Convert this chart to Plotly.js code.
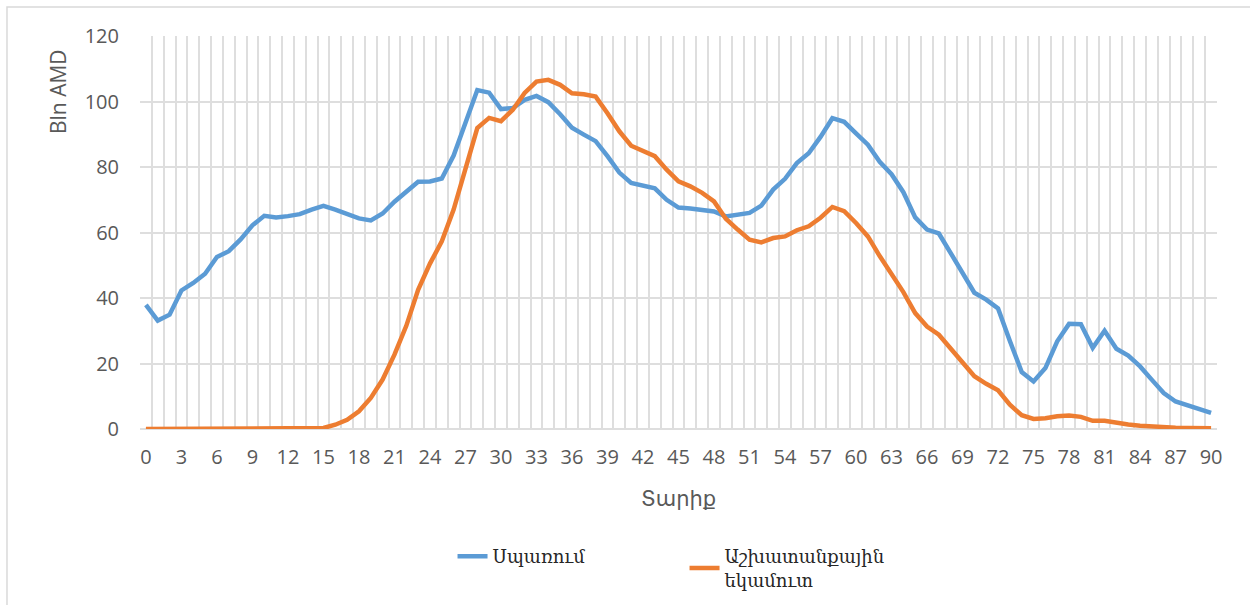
<!DOCTYPE html>
<html>
<head>
<meta charset="utf-8">
<script src="https://cdn.plot.ly/plotly-3.0.1.min.js"></script>
<style>
  html, body { margin: 0; padding: 0; background: #ffffff; }
  #chart { width: 1250px; height: 605px; }
</style>
</head>
<body>
<div id="chart"></div>
<script>
// Age categories (x axis)
const ages = [0,1,2,3,4,5,6,7,8,9,10,11,12,13,14,15,16,17,18,19,20,
  21,22,23,24,25,26,27,28,29,30,31,32,33,34,35,36,37,38,39,40,
  41,42,43,44,45,46,47,48,49,50,51,52,53,54,55,56,57,58,59,60,
  61,62,63,64,65,66,67,68,69,70,71,72,73,74,75,76,77,78,79,80,
  81,82,83,84,85,86,87,88,89,90];

// Consumption (Սպառում), bln AMD
const consumption = [37.9,33.1,34.9,42.3,44.6,47.4,52.5,54.3,57.9,62.2,65.1,
  64.6,65.0,65.6,67.0,68.1,67.0,65.7,64.3,63.7,65.8,
  69.4,72.3,75.5,75.6,76.5,83.5,93.9,103.5,102.7,97.7,
  98.0,100.5,101.7,99.8,96.1,92.0,89.9,87.9,83.3,78.3,
  75.1,74.2,73.5,70.0,67.6,67.3,67.0,66.4,64.9,65.5,
  66.0,68.2,73.1,76.4,81.2,84.2,89.2,94.9,93.8,90.3,
  86.8,81.6,77.8,72.3,64.6,60.9,59.7,53.7,47.6,41.6,
  39.5,36.8,26.9,17.4,14.5,18.6,26.8,32.1,32.0,24.8,
  30.0,24.5,22.4,19.1,15.0,11.0,8.4,7.2,6.1,4.9];

// Labour income (Աշխատանքային եկամուտ), bln AMD
const laborIncome = [0,0,0,0,0,0,0,0,0,0,0,
  0,0,0,0.05,0.3,1.3,2.8,5.4,9.5,15.1,
  22.7,31.5,42.5,50.5,57.3,67.0,79.2,91.9,95.0,94.0,
  97.5,102.6,106.1,106.6,105.1,102.5,102.2,101.5,96.4,90.9,
  86.5,84.8,83.3,79.2,75.6,74.1,72.1,69.5,64.2,60.9,
  57.8,57.0,58.3,58.8,60.7,61.9,64.5,67.8,66.5,62.9,
  58.8,52.8,47.3,41.8,35.4,31.3,28.8,24.4,20.1,16.1,
  13.8,11.8,7.4,4.2,3.05,3.3,3.9,4.1,3.7,2.5,
  2.5,1.8,1.4,1.0,0.7,0.5,0.4,0.3,0.2,0.2];

const xTickVals = [0,3,6,9,12,15,18,21,24,27,30,33,36,39,42,45,48,51,54,57,60,63,66,69,72,75,78,81,84,87,90];
const yTickVals = [0,20,40,60,80,100,120];

const seriesNames = ['Սպառում', 'Աշխատանքային<br>եկամուտ'];
const seriesColors = ['#5B9BD5', '#ED7D31'];
const yTitleText = 'Bln AMD';
const xTitleText = 'Տարիք';

const traces = [
  {
    x: ages, y: consumption, type: 'scatter', mode: 'lines',
    name: seriesNames[0],
    line: { color: seriesColors[0], width: 4.5, shape: 'linear' }
  },
  {
    x: ages, y: laborIncome, type: 'scatter', mode: 'lines',
    name: seriesNames[1],
    line: { color: seriesColors[1], width: 4.5, shape: 'linear' }
  }
];

const tickFont = { family: 'Open Sans, DejaVu Sans, sans-serif', size: 20, color: '#595959' };
const titleFont = { family: 'Open Sans, DejaVu Sans, sans-serif', size: 21, color: '#595959' };

const layout = {
  width: 1250, height: 605,
  margin: { l: 140, r: 33, t: 36, b: 176, pad: 0, autoexpand: false },
  paper_bgcolor: '#ffffff',
  plot_bgcolor: '#ffffff',
  showlegend: true,
  legend: {
    orientation: 'h',
    x: 0.5056, xanchor: 'center',
    y: -0.354, yanchor: 'middle',
    font: { family: 'DejaVu Serif, serif', size: 18, color: '#262626' },
    entrywidth: 187,
    entrywidthmode: 'pixels',
    valign: 'middle',
    bgcolor: 'rgba(0,0,0,0)'
  },
  xaxis: {
    type: 'linear',
    range: [-0.5, 90.5],
    tickmode: 'array',
    tickvals: xTickVals,
    ticktext: xTickVals.map(String),
    showgrid: false,
    zeroline: false,
    showline: false,
    ticks: '',
    ticklabelstandoff: 14,
    tickfont: tickFont,
    minor: {
      tickmode: 'linear', tick0: 0.5, dtick: 1,
      showgrid: true, gridcolor: '#dedede', gridwidth: 2, ticks: ''
    },
    title: { text: xTitleText, font: titleFont, standoff: 22 },
    fixedrange: true
  },
  yaxis: {
    range: [0, 120],
    tickmode: 'array',
    tickvals: yTickVals,
    showgrid: true,
    gridcolor: '#dedede',
    gridwidth: 2,
    zeroline: true,
    zerolinecolor: '#dedede',
    zerolinewidth: 2,
    showline: false,
    ticks: '',
    ticklabelstandoff: 20,
    tickfont: tickFont,
    fixedrange: true
  },
  annotations: [
    {
      text: yTitleText,
      xref: 'paper', yref: 'paper',
      x: -0.0761, y: 0.8575,
      xanchor: 'center', yanchor: 'middle',
      textangle: -90,
      showarrow: false,
      font: titleFont
    }
  ],
  shapes: [
    {
      type: 'rect', xref: 'paper', yref: 'paper',
      x0: -0.1235, x1: 1.05, y0: -0.47, y1: 1.0738,
      line: { color: '#d9d9d9', width: 1.5 },
      fillcolor: 'rgba(0,0,0,0)',
      layer: 'below'
    }
  ]
};

Plotly.newPlot('chart', traces, layout, { displayModeBar: false, staticPlot: true });
</script>
</body>
</html>
